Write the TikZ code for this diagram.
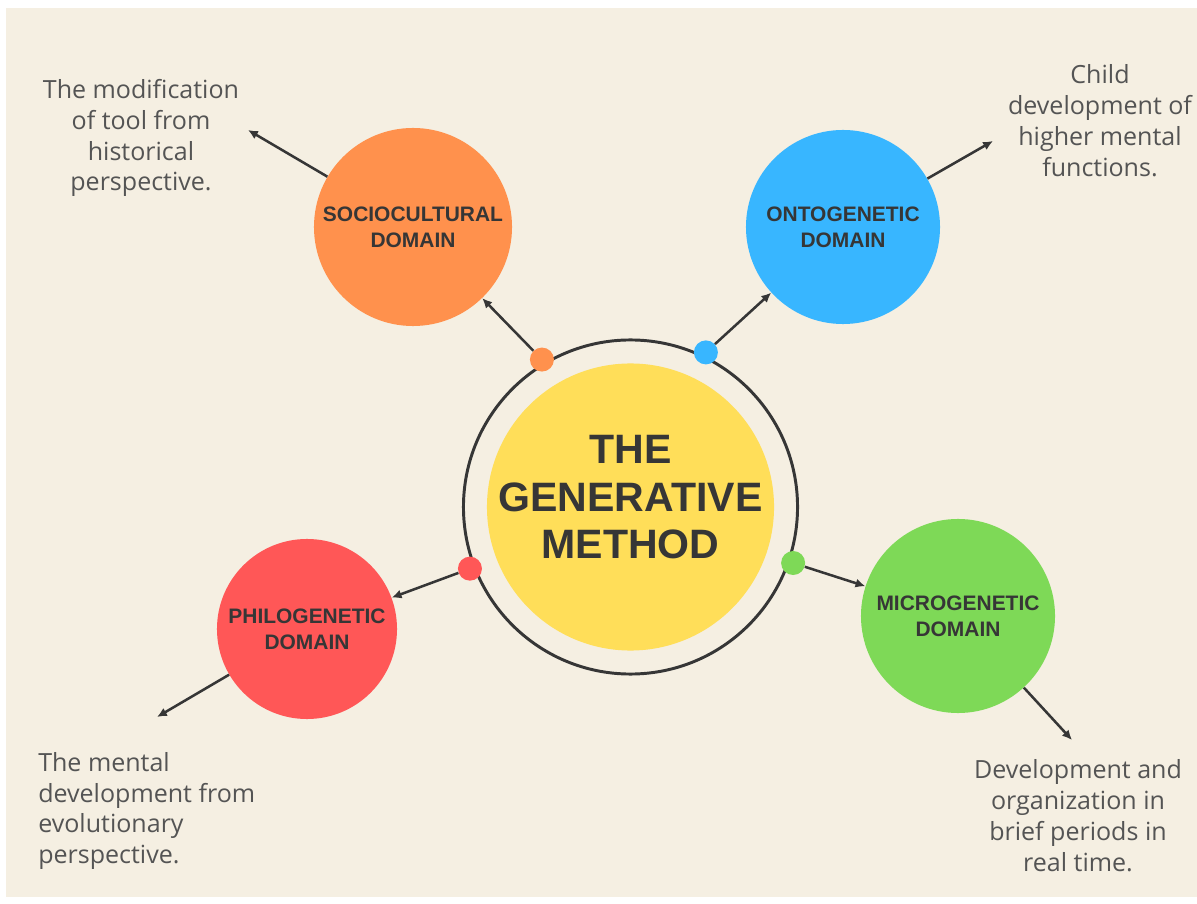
\documentclass[tikz,border=0pt]{standalone}
\usepackage{fontspec}
\setmainfont{Open Sans}
\newfontfamily\headfont{Liberation Sans}
\usetikzlibrary{arrows.meta}

\definecolor{paper}{HTML}{F5EFE2}
\definecolor{ink}{HTML}{363636}
\definecolor{orangeD}{HTML}{FF914D}
\definecolor{blueD}{HTML}{38B6FF}
\definecolor{redD}{HTML}{FF5757}
\definecolor{greenD}{HTML}{7ED957}
\definecolor{core}{HTML}{FFDE59}

\tikzset{
	dombox/.style={circle, inner sep=0pt, text=ink, align=center,
		font=\headfont\bfseries\fontsize{14.9}{18.5}\selectfont},
	dombullet/.style={circle, inner sep=0pt, minimum size=0.6cm},
	notebox/.style={inner sep=0pt, text=ink!85, align=center,
		font=\fontsize{17.8}{22}\selectfont},
	link/.style={draw=ink, line width=1.8pt, -{Latex[length=7pt,width=6.5pt]}},
}

\begin{document}
	\begin{tikzpicture}[x=0.025cm, y=0.025cm]
		\fill[white] (0,0) rectangle (1197,903);
		\fill[paper] (6,6) rectangle (1197,895);
		\useasboundingbox (0,0) rectangle (1197,903);

		\node[circle, draw=ink, line width=2.1pt, minimum size=8.35cm] (ring) at (630.5,396) {};
		\node[circle, fill=core, minimum size=7.175cm] (gen) at (630.5,396) {};
		\node[text=ink, align=center, font=\headfont\bfseries\fontsize{29.2}{33.8}\selectfont]
			(gen-title) at (630.5,405.5) {THE\\GENERATIVE\\METHOD};

		\foreach \n/\c/\p/\s/\a/\t in {
			soc/orangeD/{413,676}/4.95/121/{SOCIOCULTURAL\\DOMAIN},
			ont/blueD/{843,676}/4.85/64/{ONTOGENETIC\\DOMAIN},
			phi/redD/{307,274}/4.5/201/{PHILOGENETIC\\DOMAIN},
			mic/greenD/{958,287}/4.85/-19/{MICROGENETIC\\DOMAIN}} {
			\node[dombox, fill=\c, minimum size=\s cm] (\n) at (\p) {\t};
			\node[dombullet, fill=\c] (dot-\n) at ([shift={(\a:172)}]ring.center) {};
			\draw[link] (dot-\n) -- (\n);
		}

		\node[notebox] (note-soc) at (141,765) {The modification\\of tool from\\historical\\perspective.};
		\node[notebox] (note-ont) at (1100,782.5) {Child\\development of\\higher mental\\functions.};
		\node[notebox, align=left, anchor=west] (note-phi) at (38,92) {The mental\\development from\\evolutionary\\perspective.};
		\node[notebox] (note-mic) at (1078,87) {Development and\\organization in\\brief periods in\\real time.};

		\coordinate (tip-soc) at (248,773);
		\coordinate (tip-ont) at (993,762);
		\coordinate (tip-phi) at (157,186);
		\coordinate (tip-mic) at (1072,163);
		\foreach \n in {soc,ont,phi,mic}
			\draw[link] (\n) -- (tip-\n);
	\end{tikzpicture}
\end{document}
